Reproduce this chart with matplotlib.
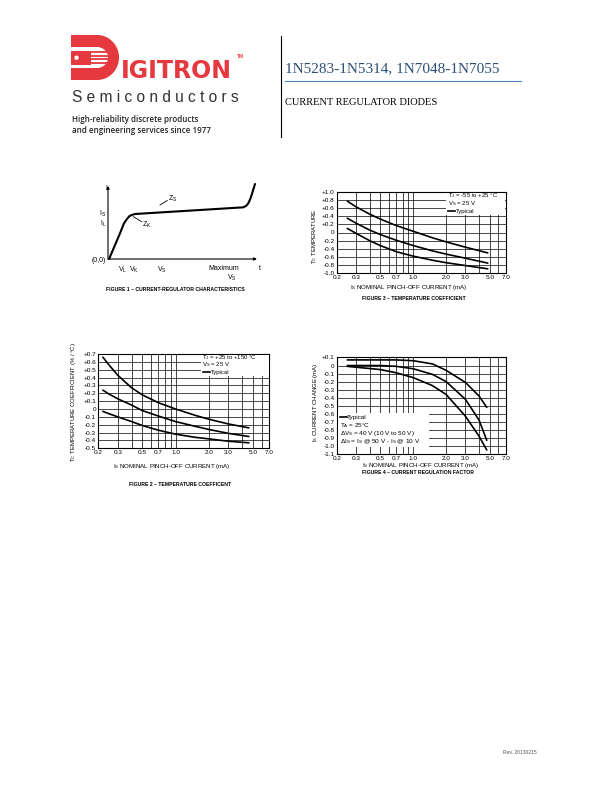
import numpy as np
import matplotlib
matplotlib.use("Agg")
import matplotlib.pyplot as plt
from matplotlib.patches import Rectangle, Circle, Polygon
from matplotlib.ticker import NullLocator

W, H = 612, 792
RED = '#e5383f'

# Figure 1 - schematic I/V curve (arbitrary units 0..10)
fig1_x = [0.07, 0.79, 1.05, 1.23, 1.40, 1.56, 1.78, 8.90, 9.10, 9.23, 9.35, 9.45, 9.67]
fig1_y = [0.00, 3.43, 4.75, 5.29, 5.70, 5.87, 6.00, 6.89, 7.10, 7.43, 7.95, 8.53, 10.0]

# common x axis of the log charts (mA)
x_ticks = [0.2, 0.3, 0.5, 0.7, 1.0, 2.0, 3.0, 5.0, 7.0]
x_grid = [0.3, 0.4, 0.5, 0.6, 0.7, 0.8, 0.9, 1.0, 2.0, 3.0, 4.0, 5.0, 6.0]

# Figure 3 - temperature coefficient, Tj = -55 to +25 C
fig3_x = [0.25, 0.3, 0.4, 0.5, 0.7, 1.0, 1.5, 2.0, 3.0, 4.8]
fig3_top = [0.77, 0.63, 0.45, 0.33, 0.17, 0.03, -0.13, -0.23, -0.36, -0.50]
fig3_mid = [0.35, 0.23, 0.06, -0.05, -0.19, -0.32, -0.45, -0.53, -0.63, -0.75]
fig3_bot = [0.10, -0.02, -0.20, -0.32, -0.47, -0.58, -0.68, -0.74, -0.81, -0.89]
fig3_yticks = [1.0, 0.8, 0.6, 0.4, 0.2, 0.0, -0.2, -0.4, -0.6, -0.8, -1.0]

# Figure 2 - temperature coefficient, Tj = +25 to +150 C
fig2_x = [0.22, 0.25, 0.3, 0.4, 0.5, 0.7, 1.0, 1.5, 2.0, 3.0, 4.6]
fig2_top = [0.66, 0.56, 0.43, 0.27, 0.18, 0.08, 0.00, -0.08, -0.13, -0.19, -0.24]
fig2_mid = [0.24, 0.19, 0.13, 0.05, -0.02, -0.09, -0.16, -0.22, -0.26, -0.31, -0.35]
fig2_bot = [-0.03, -0.06, -0.10, -0.16, -0.21, -0.27, -0.32, -0.36, -0.38, -0.41, -0.43]
fig2_yticks = [0.7, 0.6, 0.5, 0.4, 0.3, 0.2, 0.1, 0.0, -0.1, -0.2, -0.3, -0.4, -0.5]

# Figure 4 - current regulation factor
fig4_x = [0.25, 0.5, 0.7, 1.0, 1.5, 2.0, 3.0, 4.0, 4.7]
fig4_top = [0.07, 0.07, 0.07, 0.06, 0.02, -0.06, -0.21, -0.38, -0.52]
fig4_mid = [0.00, 0.00, -0.01, -0.04, -0.11, -0.20, -0.42, -0.68, -0.93]
fig4_bot = [-0.01, -0.05, -0.09, -0.15, -0.25, -0.36, -0.63, -0.88, -1.05]
fig4_yticks = [0.1, 0.0, -0.1, -0.2, -0.3, -0.4, -0.5, -0.6, -0.7, -0.8, -0.9, -1.0, -1.1]

plt.rcParams['font.family'] = ['Liberation Sans', 'DejaVu Sans']
plt.rcParams['mathtext.default'] = 'regular'

fig = plt.figure(figsize=(6.12, 7.92), dpi=100)


def overlay():
    a = fig.add_axes([0, 0, 1, 1])
    a.set_xlim(0, W)
    a.set_ylim(H, 0)
    a.axis('off')
    a.patch.set_alpha(0)
    return a


def box(l, t, r, b):
    return fig.add_axes([l / W, 1 - b / H, (r - l) / W, (b - t) / H])


page = overlay()

# ---- header / logo
t = np.linspace(-np.pi / 2, np.pi / 2, 60)
outer = [(71, 35)] + list(zip(97 + 22 * np.cos(t), 57.5 + 22.5 * np.sin(t))) + [(71, 80)]
page.add_patch(Polygon(outer, closed=True, color=RED, lw=0))
hole = [(71, 47)] + list(zip(97 + 11 * np.cos(t), 57.5 + 10.5 * np.sin(t))) + [(71, 68)]
page.add_patch(Polygon(hole, closed=True, color='white', lw=0))
page.add_patch(Rectangle((71, 50.5), 20, 14.5, color=RED, lw=0))
page.add_patch(Circle((76.5, 57.7), 2.2, color='white', lw=0))
for yy in [51.8, 55.6, 59.4, 63.2]:
    page.plot([90, 110], [yy, yy], color=RED, lw=1.3, solid_capstyle='butt')
page.text(121, 77.5, 'IGITRON', color=RED, family=['DejaVu Sans'], fontsize=17,
          fontweight='bold', va='baseline')
page.text(237, 58, 'TM', color=RED, fontsize=3.5, fontweight='bold', va='baseline')
page.text(72, 101.5, 'S e m i c o n d u c t o r s', color='#333333', fontsize=11.2, va='baseline')
page.text(72, 121.5, 'High-reliability discrete products', family=['Open Sans', 'DejaVu Sans'],
          fontweight='semibold', fontsize=5.8, color='#222222', va='baseline')
page.text(72, 133.3, 'and engineering services since 1977', family=['Open Sans', 'DejaVu Sans'],
          fontweight='semibold', fontsize=5.8, color='#222222', va='baseline')
page.plot([281, 281], [36, 137], color='black', lw=0.8)
page.text(285, 72, '1N5283-1N5314, 1N7048-1N7055', family=['Liberation Serif'], fontsize=11,
          color='#2d4e74', va='baseline')
page.plot([285, 521], [80.5, 80.5], color='#4f81bd', lw=0.8)
page.text(285, 105, 'CURRENT REGULATOR DIODES', family=['Liberation Serif'], fontsize=7.5,
          color='black', va='baseline')
page.text(503, 754, 'Rev. 20130215', fontsize=3.6, color='#555555', va='baseline')

# ---- Figure 1
ax1 = box(108, 184, 260, 259)
ax1.set_xlim(0, 10)
ax1.set_ylim(0, 10)
ax1.axis('off')
ax1.plot(fig1_x, fig1_y, color='black', lw=1.5, clip_on=False, solid_capstyle='round')
arrow = dict(arrowstyle='-|>', lw=0.8, color='black', mutation_scale=4, shrinkA=0, shrinkB=0)
ax1.annotate('', xy=(0, 9.75), xytext=(0, 0), arrowprops=arrow)
ax1.annotate('', xy=(9.8, 0), xytext=(0, 0), arrowprops=arrow)


def style(ax, yticks):
    ax.set_xscale('log')
    ax.set_xlim(0.2, 7.0)
    ax.set_ylim(min(yticks), max(yticks))
    ax.set_xticks(x_ticks)
    ax.set_xticklabels([f'{v:.1f}' for v in x_ticks])
    ax.xaxis.set_minor_locator(NullLocator())
    ax.set_yticks(yticks)
    ax.set_yticklabels(['0' if abs(v) < 1e-9 else f'{v:+.1f}' for v in yticks])
    ax.tick_params(length=0, labelsize=4.6, pad=1.5)
    for v in x_grid:
        ax.axvline(v, color='0.15', lw=0.6, zorder=1)
    for v in yticks:
        ax.axhline(v, color='black', lw=0.5, zorder=1)
    for s in ax.spines.values():
        s.set_linewidth(0.8)
        s.set_zorder(5)


def curves(ax, x, ys):
    for y in ys:
        ax.plot(x, y, color='black', lw=1.2, zorder=3, solid_capstyle='round')


ax3 = box(336.7, 191.7, 505.7, 273.3)
style(ax3, fig3_yticks)
curves(ax3, fig3_x, [fig3_top, fig3_mid, fig3_bot])

ax2 = box(98.3, 354, 269, 448.3)
style(ax2, fig2_yticks)
curves(ax2, fig2_x, [fig2_top, fig2_mid, fig2_bot])

ax4 = box(336.7, 357.5, 505.7, 454)
style(ax4, fig4_yticks)
curves(ax4, fig4_x, [fig4_top, fig4_mid, fig4_bot])

top = overlay()
fs = 5.0
# figure 1 labels
top.text(106, 188, 'I', fontsize=fs, ha='center', va='center')
top.text(103, 213.5, 'I$_S$', fontsize=fs, ha='center', va='center')
top.text(103, 224, 'I$_L$', fontsize=fs, ha='center', va='center')
top.text(99, 261, '(0,0)', fontsize=fs, ha='center', va='center')
top.text(123, 269.5, 'V$_L$', fontsize=fs, ha='center', va='center')
top.text(134, 269.5, 'V$_K$', fontsize=fs, ha='center', va='center')
top.text(162, 269.5, 'V$_S$', fontsize=fs, ha='center', va='center')
top.text(224, 269, 'Maximum', fontsize=fs, ha='center', va='center')
top.text(231.5, 278, 'V$_S$', fontsize=fs, ha='center', va='center')
top.text(260, 269, 't', fontsize=fs, ha='center', va='center')
top.plot([160, 167.3], [205, 200.5], color='black', lw=0.6)
top.text(168, 199, 'Z$_S$', fontsize=fs, ha='left', va='center')
top.plot([133.3, 141.7], [216.7, 221.7], color='black', lw=0.6)
top.text(141.5, 225, 'Z$_K$', fontsize=fs, ha='left', va='center')
top.text(175, 289.5, 'FIGURE 1 – CURRENT-REGULATOR CHARACTERISTICS', fontsize=3.7,
         fontweight='bold', ha='center', va='center')

lf = 4.3
# figure 3 texts
top.add_patch(Rectangle((446, 192.6), 59, 22.5, facecolor='white', lw=0))
top.text(447.5, 196, 'T$_J$ = -55 to +25 °C', fontsize=lf, va='center')
top.text(447.5, 203.5, 'V$_S$ = 25 V', fontsize=lf, va='center')
top.plot([447.5, 455], [211, 211], color='black', lw=1.2)
top.text(455.5, 211, 'Typical', fontsize=lf, va='center')
top.text(315, 236, 'T$_C$ TEMPERATURE', fontsize=4.3, rotation=90, ha='center', va='center')
top.text(409, 287.3, 'I$_S$ NOMINAL PINCH-OFF CURRENT (mA)', fontsize=4.4, ha='center', va='center')
top.text(414, 299, 'FIGURE 3 – TEMPERATURE COEFFICIENT', fontsize=3.7, fontweight='bold',
         ha='center', va='center')

# figure 2 texts
top.add_patch(Rectangle((200.5, 355), 68, 20.5, facecolor='white', lw=0))
top.text(202.5, 357.3, 'T$_J$ = +25 to +150 °C', fontsize=lf, va='center')
top.text(202.5, 364.8, 'V$_S$ = 25 V', fontsize=lf, va='center')
top.plot([202.5, 210], [372.3, 372.3], color='black', lw=1.2)
top.text(210.5, 372.3, 'Typical', fontsize=lf, va='center')
top.text(73.5, 402, 'T$_C$ TEMPERATURE COEFFICIENT (% / °C)', fontsize=4.3, rotation=90,
         ha='center', va='center')
top.text(172, 466.7, 'I$_S$ NOMINAL PINCH-OFF CURRENT (mA)', fontsize=4.4, ha='center', va='center')
top.text(180, 485, 'FIGURE 2 – TEMPERATURE COEFFICENT', fontsize=3.7, fontweight='bold',
         ha='center', va='center')

# figure 4 texts
lf4 = 4.6
top.add_patch(Rectangle((337.5, 413), 91, 33.5, facecolor='white', lw=0))
top.plot([340, 346.5], [417, 417], color='black', lw=1.2)
top.text(347, 417, 'Typical', fontsize=lf4, va='center')
top.text(340, 425.2, 'T$_A$ = 25°C', fontsize=lf4, va='center')
top.text(340, 433.4, 'ΔV$_S$ = 40 V (10 V to 50 V)', fontsize=lf4, va='center')
top.text(340, 441.6, 'ΔI$_S$ = I$_S$ @ 50 V - I$_S$ @ 10 V', fontsize=lf4, va='center')
top.text(315, 402, 'I$_S$ CURRENT CHANGE (mA)', fontsize=4.3, rotation=90, ha='center', va='center')
top.text(421, 465.7, 'I$_S$ NOMINAL PINCH-OFF CURRENT (mA)', fontsize=4.4, ha='center', va='center')
top.text(418, 472.5, 'FIGURE 4 – CURRENT REGULATION FACTOR', fontsize=3.7, fontweight='bold',
         ha='center', va='center')

fig.savefig('out.png', dpi=100)
